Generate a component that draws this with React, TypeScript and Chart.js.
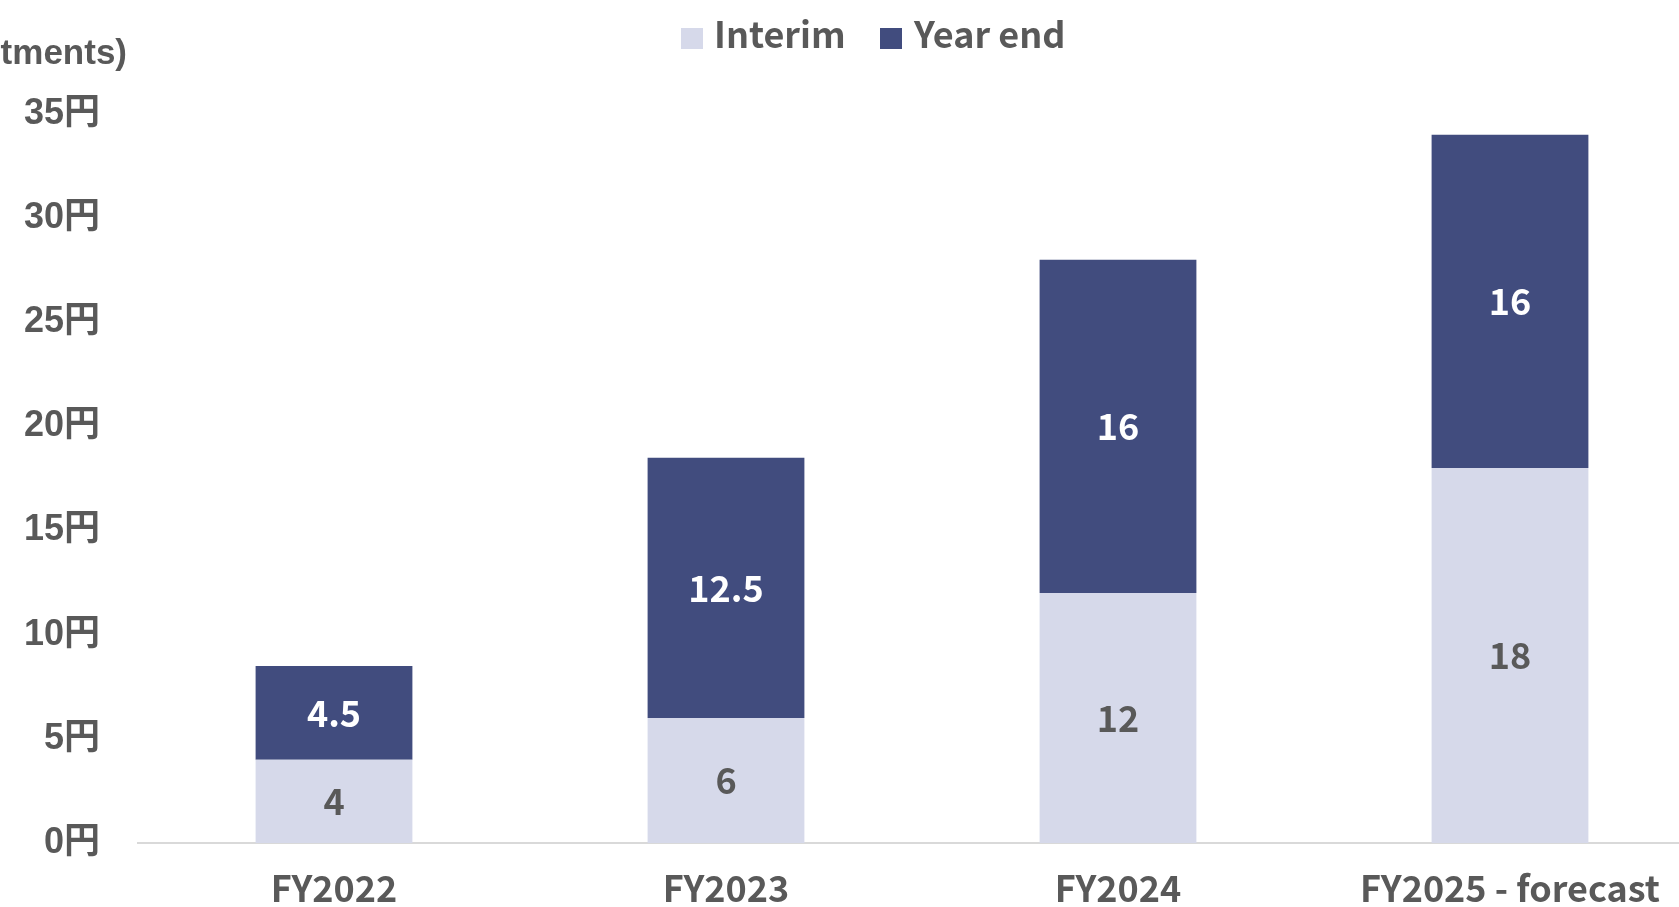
import React, { useEffect, useRef } from "react";
import { Chart, registerables } from "chart.js";

Chart.register(...registerables);

const categories = ["FY2022", "FY2023", "FY2024", "FY2025 - forecast"];
const interimValues = [4, 6, 12, 18];
const yearEndValues = [4.5, 12.5, 16, 16];
const yTickValues = [0, 5, 10, 15, 20, 25, 30, 35];
const seriesNames = ["Interim", "Year end"];
const axisTitle = "(Before stock split adjustments)";

const INTERIM_COLOR = "#D6D9EA";
const YEAREND_COLOR = "#414C7E";
const TEXT_COLOR = "#595959";
const FONT = "'Noto Sans CJK JP', 'Noto Sans', sans-serif";
const TICK_FONT = "'Liberation Sans', 'Noto Sans CJK JP', sans-serif";

export default function App() {
  const ref = useRef<HTMLCanvasElement | null>(null);

  useEffect(() => {
    if (!ref.current) return;
    const overlay = {
      id: "overlay",
      afterDatasetsDraw(chart: any) {
        const ctx = chart.ctx;
        ctx.save();
        ctx.font = `600 36px ${FONT}`;
        ctx.textAlign = "center";
        ctx.textBaseline = "middle";
        chart.data.datasets.forEach((ds: any, di: number) => {
          const meta = chart.getDatasetMeta(di);
          meta.data.forEach((el: any, i: number) => {
            const v = ds.data[i];
            const cy = (el.y + el.base) / 2;
            ctx.fillStyle = di === 0 ? TEXT_COLOR : "#FFFFFF";
            ctx.fillText(String(v), el.x, cy);
          });
        });
        // legend
        ctx.font = `bold 36px ${FONT}`;
        ctx.textAlign = "left";
        ctx.fillStyle = INTERIM_COLOR;
        ctx.fillRect(681, 28, 22, 21);
        ctx.fillStyle = YEAREND_COLOR;
        ctx.fillRect(880, 28, 22, 21);
        ctx.fillStyle = TEXT_COLOR;
        ctx.fillText(seriesNames[0], 714, 34);
        ctx.fillText(seriesNames[1], 914, 34);
        // axis title (clipped)
        ctx.font = `bold 35px ${TICK_FONT}`;
        ctx.textAlign = "right";
        ctx.fillText(axisTitle, 127, 54);
        ctx.restore();
      },
    };

    const chart = new Chart(ref.current, {
      type: "bar",
      data: {
        labels: categories,
        datasets: [
          {
            label: seriesNames[0],
            data: interimValues,
            backgroundColor: INTERIM_COLOR,
            barPercentage: 0.4,
            categoryPercentage: 1,
          },
          {
            label: seriesNames[1],
            data: yearEndValues,
            backgroundColor: YEAREND_COLOR,
            barPercentage: 0.4,
            categoryPercentage: 1,
          },
        ],
      },
      options: {
        responsive: false,
        animation: false,
        layout: { padding: { top: 114, right: 54, left: 0, bottom: 0 } },
        plugins: {
          legend: { display: false },
          tooltip: { enabled: false },
        },
        scales: {
          x: {
            stacked: true,
            grid: { display: false, drawTicks: false },
            border: { display: true, color: "#D9D9D9", width: 2 },
            ticks: {
              color: TEXT_COLOR,
              font: { family: FONT, size: 36, weight: "bold" },
              padding: 24,
              maxRotation: 0,
              autoSkip: false,
            },
            afterFit: (s: any) => {
              s.height = 64;
            },
          },
          y: {
            stacked: true,
            min: 0,
            max: 35,
            grid: { display: false, drawTicks: false },
            border: { display: false },
            afterBuildTicks: (s: any) => {
              s.ticks = yTickValues.map((v) => ({ value: v }));
            },
            ticks: {
              color: TEXT_COLOR,
              font: { family: TICK_FONT, size: 36, weight: "bold" },
              padding: 38,
              callback: (v: any) => `${v}円`,
            },
            afterFit: (s: any) => {
              s.width = 138;
            },
          },
        },
      },
      plugins: [overlay],
    });
    return () => chart.destroy();
  }, []);

  return (
    <div
      style={{
        position: "absolute",
        left: 0,
        top: 0,
        width: 1679,
        height: 907,
        overflow: "hidden",
        background: "#FFFFFF",
      }}
    >
      <canvas ref={ref} width={1760} height={907} style={{ width: 1760, height: 907, display: "block" }} />
    </div>
  );
}
